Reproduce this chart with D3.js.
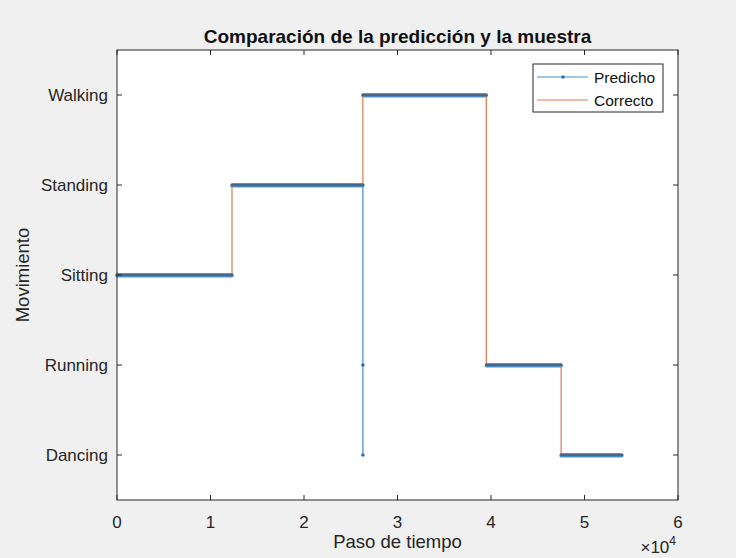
<!DOCTYPE html>
<html><head><meta charset="utf-8">
<script src="https://cdn.jsdelivr.net/npm/d3@7"></script>
<style>body{margin:0;background:#f0f0f0;}svg{display:block;font-family:"Liberation Sans",Arial,sans-serif;}</style>
</head><body><svg id="c" width="736" height="558"></svg>
<script>
const categories = ["Dancing","Running","Sitting","Standing","Walking"];
const xTicks = [0,1,2,3,4,5,6];
// Correcto: segments [start, end, category]
const correctoStart = [0, 12300, 26300, 39500, 47500];
const correctoEnd   = [12300, 26300, 39500, 47500, 54000];
const correctoCat   = ["Sitting","Standing","Walking","Running","Dancing"];
// Predicho: segments [start, end, category]; zero-length ones are single samples
const predichoStart = [0, 12300, 26300, 26300, 26300, 39500, 47500];
const predichoEnd   = [12300, 26300, 26300, 26300, 39500, 47500, 54000];
const predichoCat   = ["Sitting","Standing","Running","Dancing","Walking","Running","Dancing"];
const legendNames = ["Predicho","Correcto"];

const svg = d3.select("#c");
const L=117,R=678,T=50,B=500;
const x = d3.scaleLinear().domain([0,60000]).range([L,R]);
const y = d3.scaleLinear().domain([0.5,5.5]).range([B,T]);
const yc = c => y(categories.indexOf(c)+1);
const blueC="#3d8fcc", orangeC="#de7a4e";

svg.append("rect").attr("x",L).attr("y",T).attr("width",R-L).attr("height",B-T).attr("fill","#fff");

function pts(starts, ends, cats){
  const p=[];
  starts.forEach((s,i)=>{ p.push([s,cats[i]]); p.push([ends[i],cats[i]]); });
  return p;
}
const line = d3.line().x(d=>x(d[0])).y(d=>yc(d[1]));
const g = svg.append("g");
const pP = pts(predichoStart,predichoEnd,predichoCat);
const pC = pts(correctoStart,correctoEnd,correctoCat);
g.append("path").attr("d",line(pP)).attr("fill","none").attr("stroke",blueC).attr("stroke-width",1.2);
// white underlay so the Correcto line shows clean on top
g.append("path").attr("d",line(pC)).attr("fill","none").attr("stroke","#fff").attr("stroke-width",2.2);
predichoStart.forEach((s,i)=>{
  const e=predichoEnd[i];
  if(e>s){
    g.append("line").attr("x1",x(s)).attr("x2",x(e)).attr("y1",yc(predichoCat[i])+0.8).attr("y2",yc(predichoCat[i])+0.8)
     .attr("stroke","#4b97d4").attr("stroke-width",3.5).attr("stroke-linecap","round");
  } else {
    g.append("circle").attr("cx",x(s)).attr("cy",yc(predichoCat[i])).attr("r",1.8).attr("fill","#2a6fa8");
  }
});
g.append("path").attr("d",line(pC)).attr("fill","none").attr("stroke",orangeC).attr("stroke-width",1.2);
predichoStart.forEach((s,i)=>{
  const e=predichoEnd[i];
  if(e>s){
    g.append("line").attr("x1",x(s)).attr("x2",x(e)).attr("y1",yc(predichoCat[i])-0.3).attr("y2",yc(predichoCat[i])-0.3)
     .attr("stroke","#4a6788").attr("stroke-width",3).attr("stroke-linecap","round");
  }
});

svg.append("rect").attr("x",L).attr("y",T).attr("width",R-L).attr("height",B-T).attr("fill","none").attr("stroke","#262626").attr("stroke-width",1);

const tk=5, axCol="#262626";
xTicks.forEach(t=>{
  const xx=x(t*10000);
  svg.append("line").attr("x1",xx).attr("x2",xx).attr("y1",B).attr("y2",B-tk).attr("stroke",axCol);
  svg.append("line").attr("x1",xx).attr("x2",xx).attr("y1",T).attr("y2",T+tk).attr("stroke",axCol);
  svg.append("text").attr("x",xx).attr("y",528).attr("text-anchor","middle").attr("font-size",17).attr("fill","#262626").text(t);
});
categories.forEach((c,i)=>{
  const yy=y(i+1);
  svg.append("line").attr("x1",L).attr("x2",L+tk).attr("y1",yy).attr("y2",yy).attr("stroke",axCol);
  svg.append("line").attr("x1",R).attr("x2",R-tk).attr("y1",yy).attr("y2",yy).attr("stroke",axCol);
  svg.append("text").attr("x",L-9).attr("y",yy+6).attr("text-anchor","end").attr("font-size",17).attr("fill","#262626").text(c);
});
svg.append("text").attr("x",(L+R)/2).attr("y",548).attr("text-anchor","middle").attr("font-size",18.5).attr("fill","#262626").text("Paso de tiempo");
const ex=svg.append("text").attr("x",R-2).attr("y",553).attr("text-anchor","end").attr("font-size",17).attr("fill","#262626");
ex.append("tspan").text("\u00d710");
ex.append("tspan").attr("dy",-8).attr("font-size",12).text("4");
svg.append("text").attr("transform",`translate(29,${(T+B)/2}) rotate(-90)`).attr("text-anchor","middle").attr("font-size",18.5).attr("fill","#262626").text("Movimiento");
svg.append("text").attr("x",(L+R)/2).attr("y",43).attr("text-anchor","middle").attr("font-size",19).attr("font-weight","bold").attr("fill","#111").text("Comparación de la predicción y la muestra");

const lg=svg.append("g");
lg.append("rect").attr("x",533).attr("y",64).attr("width",130).attr("height",48).attr("fill","#fff").attr("stroke","#262626").attr("stroke-width",1);
[[blueC,77],[orangeC,100]].forEach((d,i)=>{
  lg.append("line").attr("x1",537).attr("x2",588).attr("y1",d[1]).attr("y2",d[1]).attr("stroke",d[0]).attr("stroke-width",1.2);
  if(i===0) lg.append("circle").attr("cx",563).attr("cy",d[1]).attr("r",1.8).attr("fill","#2a6fa8");
  lg.append("text").attr("x",594).attr("y",d[1]+5.5).attr("font-size",15.5).attr("fill","#111").text(legendNames[i]);
});
</script></body></html>
